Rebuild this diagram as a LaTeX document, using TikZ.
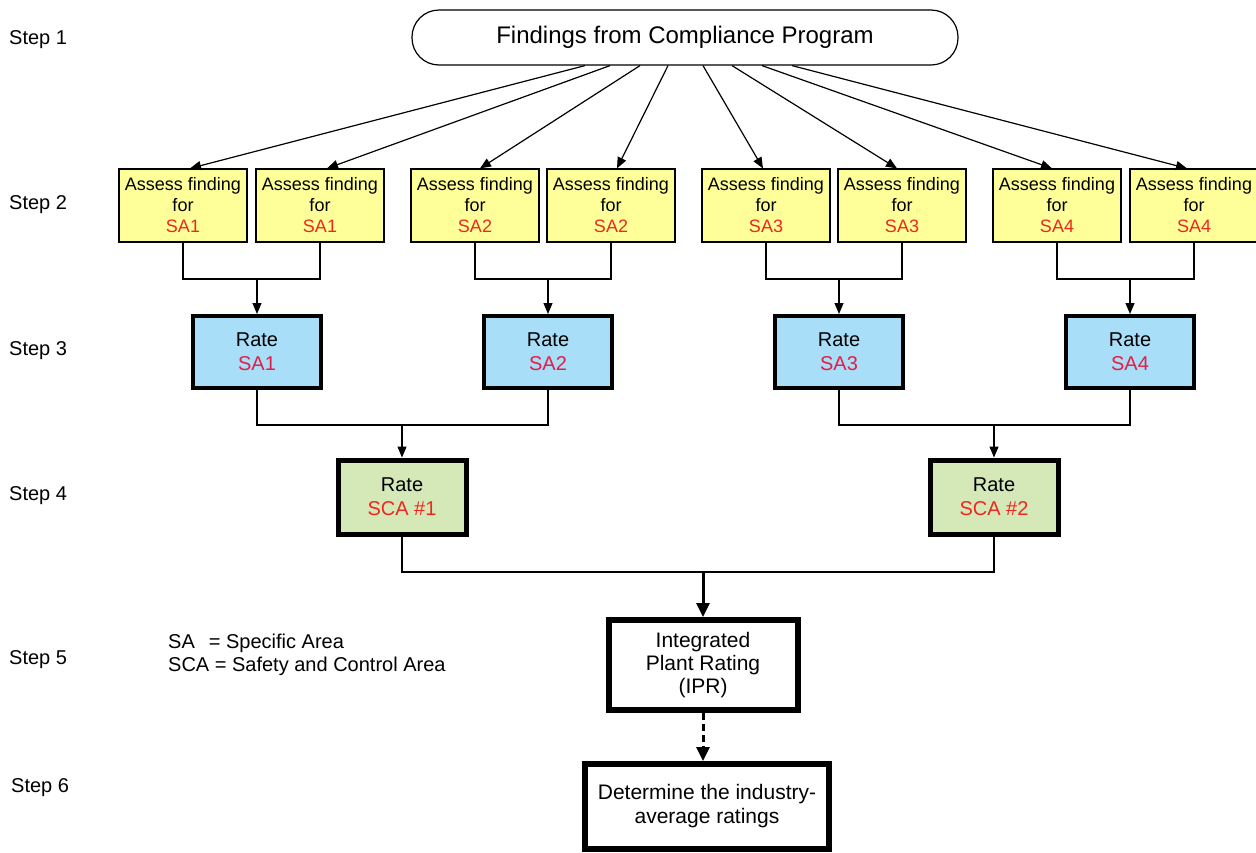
\documentclass[tikz,border=0pt]{standalone}
\usepackage{fontspec}
\setmainfont{Liberation Sans}
\usetikzlibrary{arrows.meta}
\definecolor{boxyellow}{RGB}{255,255,153}
\definecolor{boxblue}{RGB}{168,222,248}
\definecolor{boxgreen}{RGB}{212,232,184}
\definecolor{txtred}{RGB}{238,40,30}
\definecolor{txtpink}{RGB}{228,30,70}
\begin{document}
\begin{tikzpicture}[x=1pt,y=-1pt,
  thinline/.style={line width=1.2pt,draw=black},
  thinarrow/.style={thinline,-{Triangle[length=11pt,width=9pt]}},
  thickarrow/.style={line width=3pt,-{Triangle[length=14pt,width=13pt]}},
  topbox/.style={draw,line width=1.2pt,rounded corners=27pt,minimum width=546pt,minimum height=55pt,inner sep=0pt,font=\fontsize{24}{28}\selectfont},
  assessbox/.style={draw,line width=1.2pt,fill=boxyellow,minimum width=128pt,minimum height=73pt,inner sep=0pt,align=center,font=\fontsize{18}{21}\selectfont},
  ratebox/.style={draw,line width=4pt,fill=boxblue,minimum width=128pt,minimum height=72pt,inner sep=0pt,align=center,font=\fontsize{20}{24}\selectfont},
  scabox/.style={draw,line width=5pt,fill=boxgreen,minimum width=128pt,minimum height=74pt,inner sep=0pt,align=center,font=\fontsize{20}{24}\selectfont},
  bigbox/.style={draw,line width=6pt,fill=white,inner sep=0pt,align=center,font=\fontsize{21}{23}\selectfont},
  steplabel/.style={anchor=west,inner sep=0pt,font=\fontsize{20}{23}\selectfont},
  legend/.style={anchor=west,inner sep=0pt,font=\fontsize{20}{23}\selectfont}
]
\useasboundingbox (0,0) rectangle (1256,852);

% step labels
\node[steplabel] (st1) at (9,40) {Step 1};
\node[steplabel] (st2) at (9,205) {Step 2};
\node[steplabel] (st3) at (9,351) {Step 3};
\node[steplabel] (st4) at (9,496) {Step 4};
\node[steplabel] (st5) at (9,660) {Step 5};
\node[steplabel] (st6) at (11,788) {Step 6};

% legend
\node[legend] (lg1) at (168,643) {SA\hspace{14pt}= Specific Area};
\node[legend] (lg2) at (168,666) {SCA = Safety and Control Area};

% top
\node[topbox] (top) at (685,37.5) {Findings from Compliance Program};

% step 2
\node[assessbox] (a1) at (183,205.5) {Assess finding\\for\\\textcolor{txtred}{SA1}};
\node[assessbox] (a2) at (320,205.5) {Assess finding\\for\\\textcolor{txtred}{SA1}};
\node[assessbox] (a3) at (475,205.5) {Assess finding\\for\\\textcolor{txtred}{SA2}};
\node[assessbox] (a4) at (611,205.5) {Assess finding\\for\\\textcolor{txtred}{SA2}};
\node[assessbox] (a5) at (766,205.5) {Assess finding\\for\\\textcolor{txtred}{SA3}};
\node[assessbox] (a6) at (902,205.5) {Assess finding\\for\\\textcolor{txtred}{SA3}};
\node[assessbox] (a7) at (1057,205.5) {Assess finding\\for\\\textcolor{txtred}{SA4}};
\node[assessbox] (a8) at (1194,205.5) {Assess finding\\for\\\textcolor{txtred}{SA4}};

% arrows from top
\draw[thinarrow] ([xshift=-100pt]top.south) -- ([xshift=7pt]a1.north);
\draw[thinarrow] ([xshift=-75pt]top.south) -- ([xshift=7pt]a2.north);
\draw[thinarrow] ([xshift=-45pt]top.south) -- ([xshift=5pt]a3.north);
\draw[thinarrow] ([xshift=-17pt]top.south) -- ([xshift=6pt]a4.north);
\draw[thinarrow] ([xshift=18pt]top.south) -- ([xshift=-3pt]a5.north);
\draw[thinarrow] ([xshift=47pt]top.south) -- ([xshift=-5pt]a6.north);
\draw[thinarrow] ([xshift=77pt]top.south) -- ([xshift=-5pt]a7.north);
\draw[thinarrow] ([xshift=107pt]top.south) -- ([xshift=-7pt]a8.north);

% step 3
\node[ratebox] (r1) at (257,352) {Rate\\\textcolor{txtpink}{SA1}};
\node[ratebox] (r2) at (548,352) {Rate\\\textcolor{txtpink}{SA2}};
\node[ratebox] (r3) at (839,352) {Rate\\\textcolor{txtpink}{SA3}};
\node[ratebox] (r4) at (1130,352) {Rate\\\textcolor{txtpink}{SA4}};

\coordinate (b1) at (257,279);
\coordinate (b2) at (548,279);
\coordinate (b3) at (839,279);
\coordinate (b4) at (1130,279);
\draw[thinline] (a1.south) |- (b1) -| (a2.south);
\draw[thinline] (a3.south) |- (b2) -| (a4.south);
\draw[thinline] (a5.south) |- (b3) -| (a6.south);
\draw[thinline] (a7.south) |- (b4) -| (a8.south);
\draw[thinarrow] (b1) -- (r1.north);
\draw[thinarrow] (b2) -- (r2.north);
\draw[thinarrow] (b3) -- (r3.north);
\draw[thinarrow] (b4) -- (r4.north);

% step 4
\node[scabox] (c1) at (402,497) {Rate\\\textcolor{txtred}{SCA \#1}};
\node[scabox] (c2) at (994,497) {Rate\\\textcolor{txtred}{SCA \#2}};
\coordinate (k1) at (402,425);
\coordinate (k2) at (994,425);
\draw[thinline] (r1.south) |- (k1) -| (r2.south);
\draw[thinline] (r3.south) |- (k2) -| (r4.south);
\draw[thinarrow] (k1) -- (c1.north);
\draw[thinarrow] (k2) -- (c2.north);

% step 5
\node[bigbox,minimum width=189pt,minimum height=90pt] (ipr) at (703,665) {Integrated\\Plant Rating\\(IPR)};
\coordinate (m) at (703,572);
\draw[thinline] (c1.south) |- (m) -| (c2.south);
\draw[thickarrow] (m) -- (ipr.north);

% step 6
\node[bigbox,minimum width=244pt,minimum height=85pt,font=\fontsize{21}{24}\selectfont] (det) at (707,806.5) {Determine the industry-\\average ratings};
\draw[thickarrow,dash pattern=on 7pt off 4pt] (ipr.south) -- (ipr.south |- det.north);
\end{tikzpicture}
\end{document}
